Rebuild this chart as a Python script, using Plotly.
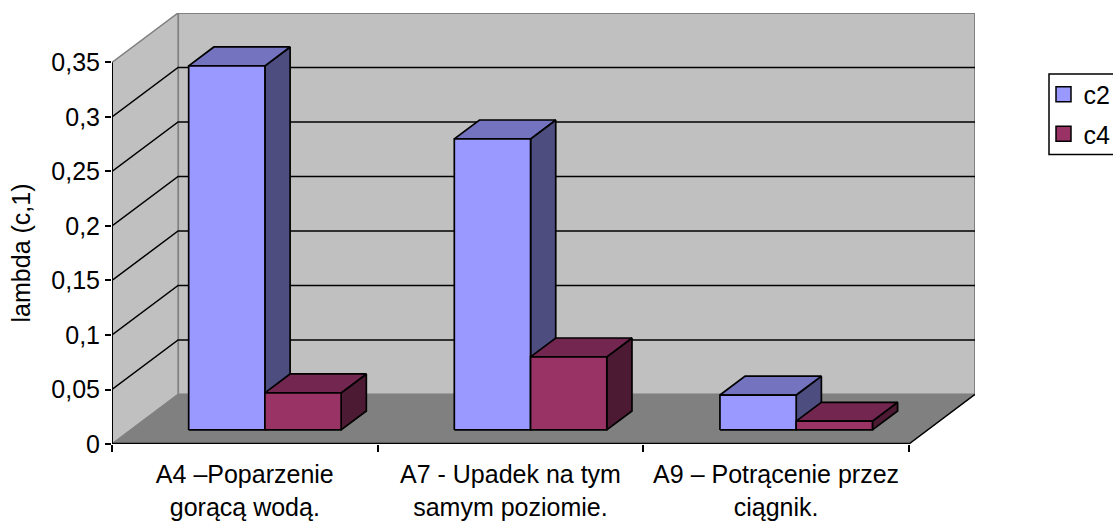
import plotly.graph_objects as go

categories = ["A4 –Poparzenie<br>gorącą wodą.", "A7 - Upadek na tym<br>samym poziomie.", "A9 – Potrącenie przez<br>ciągnik."]
series_names = ["c2", "c4"]
c2_values = [0.334, 0.267, 0.032]
c4_values = [0.034, 0.067, 0.008]
y_ticks = [0, 0.05, 0.1, 0.15, 0.2, 0.25, 0.3, 0.35]
y_tick_labels = ["0", "0,05", "0,1", "0,15", "0,2", "0,25", "0,3", "0,35"]

FRONT = {"c2": "#9999FF", "c4": "#993366"}
TOP = {"c2": "#7373BF", "c4": "#732650"}
SIDE = {"c2": "#4D4D80", "c4": "#4D1A33"}
WALL, FLOOR, EDGE = "#C0C0C0", "#808080", "#808080"
FONT = "Liberation Sans"
FS = 25

# oblique projection, in axis units
DX, DY = 0.2488, 0.0455
YMAX = 0.3954
GAP, BAR_W = 0.218, 0.287
D0, D1 = 0.284, 0.665
n = len(categories)
vmax = y_ticks[-1]

fig = go.Figure()

def poly(xs, ys, fill, line=None, width=1.7):
    fig.add_trace(go.Scatter(x=xs, y=ys, mode="lines", fill="toself" if fill else None,
                             fillcolor=fill, line=dict(color=line or fill, width=width),
                             showlegend=False, hoverinfo="skip", cliponaxis=False))

def seg(xs, ys, color, width=1.5):
    fig.add_trace(go.Scatter(x=xs, y=ys, mode="lines", line=dict(color=color, width=width),
                             showlegend=False, hoverinfo="skip", cliponaxis=False))

# walls and floor
poly([DX, n + DX, n + DX, DX, DX], [DY, DY, vmax + DY, vmax + DY, DY], WALL, EDGE, 2)
poly([0, DX, DX, 0, 0], [0, DY, vmax + DY, vmax, 0], WALL, EDGE, 1.5)
poly([0, n, n + DX, DX, 0], [0, 0, DY, DY, 0], FLOOR, EDGE, 1)
seg([n, n + DX], [0, DY], "black", 1.5)

# gridlines
for v in y_ticks[1:-1]:
    seg([0, DX, n + DX], [v, v + DY, v + DY], "black", 1.5)

def box(x0, w, v, name):
    fx0, fx1 = x0 + D0 * DX, x0 + w + D0 * DX
    bx0, bx1 = x0 + D1 * DX, x0 + w + D1 * DX
    fy, by = D0 * DY, D1 * DY
    # side
    poly([fx1, bx1, bx1, fx1, fx1], [fy, by, by + v, fy + v, fy], SIDE[name], "black")
    # top
    poly([fx0, fx1, bx1, bx0, fx0], [fy + v, fy + v, by + v, by + v, fy + v], TOP[name], "black")
    # front
    poly([fx0, fx1, fx1, fx0, fx0], [fy, fy, fy + v, fy + v, fy], FRONT[name], "black")

for i in range(n):
    box(i + GAP, BAR_W, c2_values[i], "c2")
    box(i + GAP + BAR_W, BAR_W, c4_values[i], "c4")

# axis lines
seg([0, 0], [0, vmax], "black", 2)
seg([0, n], [0, 0], "black", 2.5)

# legend entries
for name in series_names:
    fig.add_trace(go.Scatter(x=[None], y=[None], mode="markers", name=name, legendgroup=name,
                             marker=dict(symbol="square", size=15, color=FRONT[name],
                                         line=dict(color="black", width=1.5))))

PW, PH = 1113 - 112 - 138, 523 - 13 - 79
fig.update_layout(
    width=1113, height=523,
    autosize=False,
    margin=dict(l=112, r=138, t=13, b=79, autoexpand=False),
    paper_bgcolor="white", plot_bgcolor="white",
    font=dict(family=FONT, size=FS, color="black"),
    xaxis=dict(range=[0, n + DX], tickmode="array", tickvals=[i + 0.5 for i in range(n)],
               ticktext=categories, ticks="", showgrid=False, zeroline=False, showline=False,
               tickfont=dict(size=FS), ticklabelstandoff=13,
               minor=dict(tickmode="array", tickvals=list(range(n + 1)), ticks="outside",
                          ticklen=7, tickcolor="black", tickwidth=2, showgrid=False)),
    yaxis=dict(range=[0, YMAX], tickmode="array", tickvals=y_ticks, ticktext=y_tick_labels,
               ticks="outside", ticklen=6, tickcolor="black", tickwidth=1.5,
               showgrid=False, zeroline=False, showline=False, tickfont=dict(size=FS)),
    annotations=[dict(text="lambda (c,1)", textangle=-90, showarrow=False,
                      xref="paper", yref="paper", x=-0.105, y=0.443,
                      xanchor="center", yanchor="middle", font=dict(size=FS))],
    shapes=[dict(type="rect", xref="paper", yref="paper",
                 x0=(1049 - 112) / PW, x1=(1125 - 112) / PW,
                 y0=(444 - 154.5) / PH, y1=(444 - 74) / PH,
                 line=dict(color="black", width=1.5), fillcolor="white", layer="above")],
    legend=dict(x=1043.5 / 1113, y=1 - 71.5 / 523, xref="container", yref="container",
                xanchor="left", yanchor="top",
                bgcolor="rgba(0,0,0,0)", borderwidth=0,
                traceorder="grouped", tracegroupgap=4, font=dict(size=FS)),
)
fig.write_html("out.html", post_script="document.body.style.margin='0';",
               config={"displayModeBar": False})
